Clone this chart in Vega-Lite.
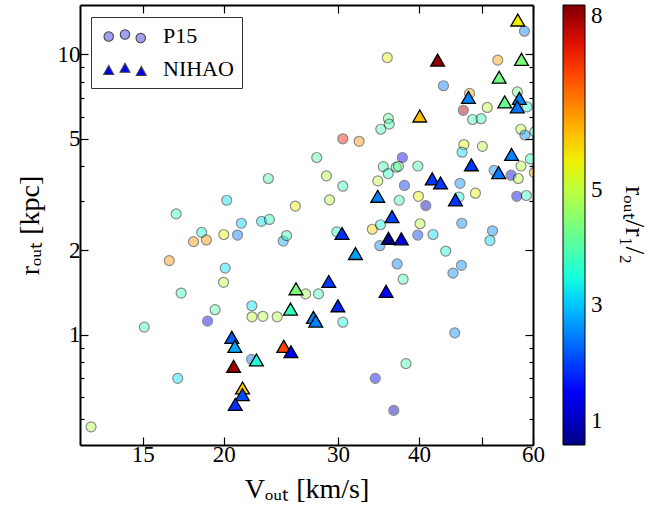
{
  "$schema": "https://vega.github.io/schema/vega-lite/v6.json",
  "width": 453,
  "height": 440,
  "autosize": {"type": "none"},
  "padding": {"left": 80, "top": 5, "right": 121, "bottom": 64},
  "background": "white",
  "config": {
    "view": {"stroke": null},
    "font": "Liberation Serif",
    "axis": {"grid": false, "labelFont": "Liberation Serif", "titleFont": "Liberation Serif", "labelColor": "black", "titleColor": "black", "tickColor": "black", "domainColor": "black", "labelFontSize": 23, "titleFontSize": 28, "titleFontWeight": "normal", "labelFlush": false, "labelOverlap": false}
  },
  "datasets": {
    "p15": [
      {"v":23.43,"r":3.61,"c":3.9,"set":"P15"},{"v":20.21,"r":3.02,"c":3.2,"set":"P15"},{"v":25.79,"r":2.88,"c":5.5,"set":"P15"},
      {"v":16.89,"r":2.70,"c":3.8,"set":"P15"},{"v":21.29,"r":2.50,"c":3.1,"set":"P15"},{"v":22.87,"r":2.54,"c":3.2,"set":"P15"},
      {"v":23.52,"r":2.58,"c":3.7,"set":"P15"},{"v":18.49,"r":2.32,"c":3.5,"set":"P15"},{"v":17.96,"r":2.15,"c":6.3,"set":"P15"},
      {"v":18.80,"r":2.18,"c":6.3,"set":"P15"},{"v":20.00,"r":2.28,"c":5.4,"set":"P15"},{"v":21.00,"r":2.27,"c":2.5,"set":"P15"},
      {"v":24.70,"r":2.16,"c":2.9,"set":"P15"},{"v":25.00,"r":2.26,"c":3.8,"set":"P15"},{"v":16.48,"r":1.84,"c":6.3,"set":"P15"},
      {"v":20.10,"r":1.73,"c":3.2,"set":"P15"},{"v":19.98,"r":1.54,"c":5.0,"set":"P15"},{"v":17.19,"r":1.41,"c":3.8,"set":"P15"},
      {"v":26.75,"r":1.40,"c":4.8,"set":"P15"},{"v":28.00,"r":1.40,"c":3.8,"set":"P15"},{"v":19.39,"r":1.23,"c":4.0,"set":"P15"},
      {"v":22.10,"r":1.27,"c":3.2,"set":"P15"},{"v":18.88,"r":1.12,"c":1.4,"set":"P15"},{"v":22.11,"r":1.16,"c":5.0,"set":"P15"},
      {"v":22.98,"r":1.165,"c":5.0,"set":"P15"},{"v":24.18,"r":1.16,"c":4.9,"set":"P15"},{"v":15.08,"r":1.066,"c":3.8,"set":"P15"},
      {"v":22.07,"r":0.818,"c":2.4,"set":"P15"},{"v":16.98,"r":0.70,"c":3.2,"set":"P15"},{"v":12.48,"r":0.470,"c":4.9,"set":"P15"},
      {"v":30.53,"r":3.39,"c":3.8,"set":"P15"},{"v":29.13,"r":3.03,"c":5.0,"set":"P15"},{"v":28.80,"r":3.69,"c":5.0,"set":"P15"},
      {"v":27.83,"r":4.29,"c":4.0,"set":"P15"},{"v":30.53,"r":5.00,"c":7.3,"set":"P15"},{"v":32.35,"r":4.90,"c":6.3,"set":"P15"},
      {"v":34.94,"r":5.41,"c":3.9,"set":"P15"},{"v":35.89,"r":5.91,"c":4.2,"set":"P15"},{"v":36.00,"r":5.64,"c":3.9,"set":"P15"},
      {"v":35.75,"r":9.74,"c":5.4,"set":"P15"},{"v":34.57,"r":3.54,"c":5.0,"set":"P15"},{"v":35.25,"r":3.98,"c":3.9,"set":"P15"},
      {"v":35.87,"r":3.76,"c":3.7,"set":"P15"},{"v":36.90,"r":3.96,"c":3.8,"set":"P15"},{"v":37.20,"r":3.99,"c":4.3,"set":"P15"},
      {"v":37.72,"r":4.29,"c":1.5,"set":"P15"},{"v":39.86,"r":4.00,"c":3.9,"set":"P15"},{"v":38.00,"r":3.41,"c":1.8,"set":"P15"},
      {"v":37.30,"r":3.02,"c":3.8,"set":"P15"},{"v":39.93,"r":3.12,"c":5.4,"set":"P15"},{"v":41.00,"r":2.89,"c":1.0,"set":"P15"},
      {"v":29.88,"r":2.33,"c":3.5,"set":"P15"},{"v":33.90,"r":2.38,"c":5.8,"set":"P15"},{"v":34.90,"r":2.47,"c":3.5,"set":"P15"},
      {"v":34.82,"r":2.08,"c":2.6,"set":"P15"},{"v":40.17,"r":2.49,"c":5.0,"set":"P15"},{"v":39.84,"r":2.27,"c":2.0,"set":"P15"},
      {"v":42.06,"r":2.28,"c":3.2,"set":"P15"},{"v":37.03,"r":1.79,"c":2.5,"set":"P15"},{"v":37.82,"r":1.58,"c":3.9,"set":"P15"},
      {"v":30.53,"r":1.11,"c":3.5,"set":"P15"},{"v":45.44,"r":1.017,"c":2.6,"set":"P15"},{"v":38.21,"r":0.79,"c":3.9,"set":"P15"},
      {"v":34.26,"r":0.70,"c":1.5,"set":"P15"},{"v":36.59,"r":0.538,"c":1.0,"set":"P15"},{"v":58.20,"r":12.1,"c":2.5,"set":"P15"},
      {"v":52.94,"r":9.54,"c":6.2,"set":"P15"},{"v":43.65,"r":7.73,"c":2.5,"set":"P15"},{"v":47.90,"r":7.26,"c":6.2,"set":"P15"},
      {"v":46.84,"r":6.32,"c":8.0,"set":"P15"},{"v":48.42,"r":5.86,"c":3.8,"set":"P15"},{"v":49.90,"r":5.90,"c":3.8,"set":"P15"},
      {"v":51.00,"r":6.47,"c":5.0,"set":"P15"},{"v":56.76,"r":7.35,"c":4.3,"set":"P15"},{"v":58.76,"r":6.50,"c":3.6,"set":"P15"},
      {"v":57.46,"r":5.41,"c":5.0,"set":"P15"},{"v":58.30,"r":5.16,"c":2.6,"set":"P15"},{"v":60.40,"r":5.30,"c":3.8,"set":"P15"},
      {"v":46.94,"r":4.77,"c":5.4,"set":"P15"},{"v":46.64,"r":4.48,"c":3.2,"set":"P15"},{"v":50.12,"r":4.70,"c":5.0,"set":"P15"},
      {"v":59.45,"r":4.24,"c":3.8,"set":"P15"},{"v":57.50,"r":4.00,"c":4.9,"set":"P15"},{"v":60.30,"r":3.79,"c":6.2,"set":"P15"},
      {"v":52.25,"r":3.86,"c":2.6,"set":"P15"},{"v":55.50,"r":3.71,"c":1.5,"set":"P15"},{"v":56.94,"r":3.61,"c":5.0,"set":"P15"},
      {"v":56.64,"r":3.12,"c":1.5,"set":"P15"},{"v":58.60,"r":3.14,"c":3.8,"set":"P15"},{"v":46.30,"r":3.47,"c":2.6,"set":"P15"},
      {"v":46.13,"r":3.10,"c":3.5,"set":"P15"},{"v":48.90,"r":3.20,"c":5.4,"set":"P15"},{"v":46.59,"r":2.50,"c":2.6,"set":"P15"},
      {"v":51.96,"r":2.35,"c":2.6,"set":"P15"},{"v":51.50,"r":2.17,"c":3.1,"set":"P15"},{"v":44.00,"r":1.99,"c":3.5,"set":"P15"},
      {"v":46.52,"r":1.77,"c":2.6,"set":"P15"},{"v":45.15,"r":1.66,"c":2.6,"set":"P15"}
    ],
    "nihao": [
      {"v":25.85,"r":1.46,"c":4.4,"set":"NIHAO"},{"v":25.35,"r":1.236,"c":3.8,"set":"NIHAO"},{"v":20.58,"r":0.98,"c":2.2,"set":"NIHAO"},
      {"v":20.80,"r":0.91,"c":2.8,"set":"NIHAO"},{"v":24.75,"r":0.91,"c":7.0,"set":"NIHAO"},{"v":25.39,"r":0.871,"c":1.35,"set":"NIHAO"},
      {"v":22.46,"r":0.814,"c":3.6,"set":"NIHAO"},{"v":20.71,"r":0.773,"c":8.0,"set":"NIHAO"},{"v":21.38,"r":0.647,"c":5.9,"set":"NIHAO"},
      {"v":21.37,"r":0.612,"c":2.1,"set":"NIHAO"},{"v":20.83,"r":0.565,"c":1.8,"set":"NIHAO"},{"v":27.50,"r":1.155,"c":2.5,"set":"NIHAO"},
      {"v":27.73,"r":1.12,"c":2.5,"set":"NIHAO"},{"v":29.04,"r":1.55,"c":1.9,"set":"NIHAO"},{"v":30.00,"r":1.27,"c":1.7,"set":"NIHAO"},
      {"v":30.44,"r":2.30,"c":1.8,"set":"NIHAO"},{"v":31.93,"r":1.95,"c":2.7,"set":"NIHAO"},{"v":34.56,"r":3.12,"c":2.5,"set":"NIHAO"},
      {"v":36.36,"r":2.64,"c":2.0,"set":"NIHAO"},{"v":35.90,"r":2.21,"c":0.65,"set":"NIHAO"},{"v":37.58,"r":2.20,"c":1.3,"set":"NIHAO"},
      {"v":35.60,"r":1.43,"c":1.5,"set":"NIHAO"},{"v":40.13,"r":6.03,"c":6.0,"set":"NIHAO"},{"v":42.75,"r":9.54,"c":8.1,"set":"NIHAO"},
      {"v":47.70,"r":7.02,"c":2.5,"set":"NIHAO"},{"v":56.84,"r":13.26,"c":5.5,"set":"NIHAO"},{"v":57.60,"r":9.60,"c":4.4,"set":"NIHAO"},
      {"v":53.20,"r":8.29,"c":4.3,"set":"NIHAO"},{"v":54.27,"r":6.77,"c":4.2,"set":"NIHAO"},{"v":57.16,"r":6.97,"c":2.5,"set":"NIHAO"},
      {"v":56.74,"r":6.50,"c":2.4,"set":"NIHAO"},{"v":55.60,"r":4.40,"c":2.5,"set":"NIHAO"},{"v":48.20,"r":4.04,"c":1.9,"set":"NIHAO"},
      {"v":53.10,"r":3.79,"c":2.4,"set":"NIHAO"},{"v":41.94,"r":3.60,"c":1.9,"set":"NIHAO"},{"v":43.20,"r":3.48,"c":1.9,"set":"NIHAO"},
      {"v":45.55,"r":3.03,"c":1.9,"set":"NIHAO"}
    ]
  },
  "layer": [
    {
      "data": {"name": "p15"},
      "mark": {"type": "point", "filled": true, "size": 100, "opacity": 0.45, "stroke": "black", "strokeWidth": 1.2, "clip": true},
      "encoding": {
        "x": {"field": "v", "type": "quantitative", "scale": {"type": "log", "domain": [12, 60], "nice": false},
              "axis": {"orient": "bottom", "values": [15, 20, 30, 40, 50, 60], "format": "d", "labelExpr": "datum.value == 50 ? '' : datum.label", "tickSize": -8, "tickWidth": 1.2, "domainWidth": 2, "labelPadding": 6, "title": "Vₒᵤₜ [km/s]", "titlePadding": 9}},
        "y": {"field": "r", "type": "quantitative", "scale": {"type": "log", "domain": [0.405, 15], "nice": false},
              "axis": {"orient": "left", "values": [1, 2, 5, 10], "format": "d", "tickSize": -8, "tickWidth": 1.2, "domainWidth": 2, "labelPadding": 8, "title": "rₒᵤₜ [kpc]", "titlePadding": 13}},
        "color": {"field": "c", "type": "quantitative",
                  "scale": {"domain": [0.585, 1.060, 1.536, 2.011, 2.486, 2.962, 3.437, 3.912, 4.388, 4.863, 5.338, 5.813, 6.289, 6.764, 7.239, 7.715, 8.19],
                            "range": ["#000080", "#0000c8", "#0000ff", "#0040ff", "#0080ff", "#00bfff", "#15ffe2", "#48ffaf", "#7bff7b", "#afff48", "#e2ff15", "#ffd200", "#ff9700", "#ff5c00", "#ff2100", "#c80000", "#800000"]},
                  "legend": {"orient": "right", "offset": 29, "direction": "vertical", "gradientLength": 440, "gradientThickness": 22, "gradientOpacity": 1, "values": [1, 3, 5, 8], "labelOverlap": false, "labelFont": "Liberation Serif", "labelFontSize": 23, "labelColor": "black", "labelOffset": 6, "gradientStrokeColor": "black", "gradientStrokeWidth": 1, "title": "rₒᵤₜ/r₁/₂", "titleOrient": "right", "titleAngle": 270, "titleAnchor": "middle", "titleFont": "Liberation Serif", "titleFontSize": 28, "titleFontWeight": "normal", "titleColor": "black", "titlePadding": 17}},
        "shape": {"field": "set", "type": "nominal", "scale": {"domain": ["P15", "NIHAO"], "range": ["circle", "triangle-up"]}, "legend": null}
      }
    },
    {
      "data": {"name": "nihao"},
      "mark": {"type": "point", "filled": true, "size": 190, "opacity": 1, "stroke": "black", "strokeWidth": 1.3, "clip": true},
      "encoding": {
        "x": {"field": "v", "type": "quantitative", "scale": {"type": "log", "domain": [12, 60], "nice": false},
              "axis": {"orient": "top", "values": [15, 20, 30, 40, 50, 60], "labels": false, "tickSize": -8, "tickWidth": 1.2, "domainWidth": 2, "title": null}},
        "y": {"field": "r", "type": "quantitative", "scale": {"type": "log", "domain": [0.405, 15], "nice": false},
              "axis": {"orient": "right", "values": [1, 2, 5, 10], "labels": false, "tickSize": -8, "tickWidth": 1.2, "domainWidth": 2, "title": null}},
        "color": {"field": "c", "type": "quantitative",
                  "scale": {"domain": [0.585, 1.060, 1.536, 2.011, 2.486, 2.962, 3.437, 3.912, 4.388, 4.863, 5.338, 5.813, 6.289, 6.764, 7.239, 7.715, 8.19],
                            "range": ["#000080", "#0000c8", "#0000ff", "#0040ff", "#0080ff", "#00bfff", "#15ffe2", "#48ffaf", "#7bff7b", "#afff48", "#e2ff15", "#ffd200", "#ff9700", "#ff5c00", "#ff2100", "#c80000", "#800000"]},
                  "legend": null},
        "shape": {"field": "set", "type": "nominal", "scale": {"domain": ["P15", "NIHAO"], "range": ["circle", "triangle-up"]}, "legend": null}
      }
    },
    {
      "data": {"name": "p15"},
      "mark": {"type": "point", "opacity": 0},
      "encoding": {
        "x": {"field": "v", "type": "quantitative", "axis": null},
        "y": {"field": "r", "type": "quantitative", "axis": {"orient": "left", "values": [0.5, 0.6, 0.7, 0.8, 0.9, 3, 4, 6, 7, 8, 9], "labels": false, "domain": false, "tickSize": -4, "tickWidth": 1.2, "title": null}}
      }
    },
    {
      "data": {"name": "p15"},
      "mark": {"type": "point", "opacity": 0},
      "encoding": {
        "x": {"field": "v", "type": "quantitative", "axis": null},
        "y": {"field": "r", "type": "quantitative", "axis": {"orient": "right", "values": [0.5, 0.6, 0.7, 0.8, 0.9, 3, 4, 6, 7, 8, 9], "labels": false, "domain": false, "tickSize": -4, "tickWidth": 1.2, "title": null}}
      }
    },
    {
      "data": {"name": "p15"},
      "mark": {"type": "point", "filled": true, "opacity": 0, "stroke": "#444444", "strokeWidth": 1.1},
      "encoding": {
        "x": {"field": "v", "type": "quantitative", "axis": null},
        "y": {"field": "r", "type": "quantitative", "axis": null},
        "shape": {"field": "set", "type": "nominal",
                  "scale": {"domain": ["P15", "NIHAO"], "range": ["M-6,0.5a4.7,4.7 0 1,0 9.4,0a4.7,4.7 0 1,0 -9.4,0Z M10.3,-1.5a4.7,4.7 0 1,0 9.4,0a4.7,4.7 0 1,0 -9.4,0Z M26,2a4.7,4.7 0 1,0 9.4,0a4.7,4.7 0 1,0 -9.4,0Z", "M-1.3,-3.5L-6.3,5.5L3.7,5.5Z M15,-5.8L10,3.2L20,3.2Z M31.3,-2.5L26.3,6.5L36.3,6.5Z"]},
                  "legend": {"orient": "none", "legendX": 11, "legendY": 12, "title": null, "symbolSize": 4, "symbolOpacity": 1, "symbolFillColor": "#a0a0f2", "symbolStrokeColor": "#444444", "symbolStrokeWidth": 1.1, "labelOffset": 42, "rowPadding": 11, "padding": 8, "strokeColor": "#333333", "fillColor": "white", "cornerRadius": 0, "labelFont": "Liberation Serif", "labelFontSize": 22, "labelColor": "black"}},
        "color": {"field": "set", "type": "nominal",
                  "scale": {"domain": ["P15", "NIHAO"], "range": ["#a0a0f2", "#0000f0"]},
                  "legend": {"orient": "none", "legendX": 11, "legendY": 12, "title": null, "symbolSize": 4, "symbolOpacity": 1, "symbolFillColor": "#a0a0f2", "symbolStrokeColor": "#444444", "symbolStrokeWidth": 1.1, "labelOffset": 42, "rowPadding": 11, "padding": 8, "strokeColor": "#333333", "fillColor": "white", "cornerRadius": 0, "labelFont": "Liberation Serif", "labelFontSize": 22, "labelColor": "black"}}
      }
    }
  ],
  "resolve": {"axis": {"x": "independent", "y": "independent"}, "scale": {"color": "independent", "shape": "independent"}}
}
